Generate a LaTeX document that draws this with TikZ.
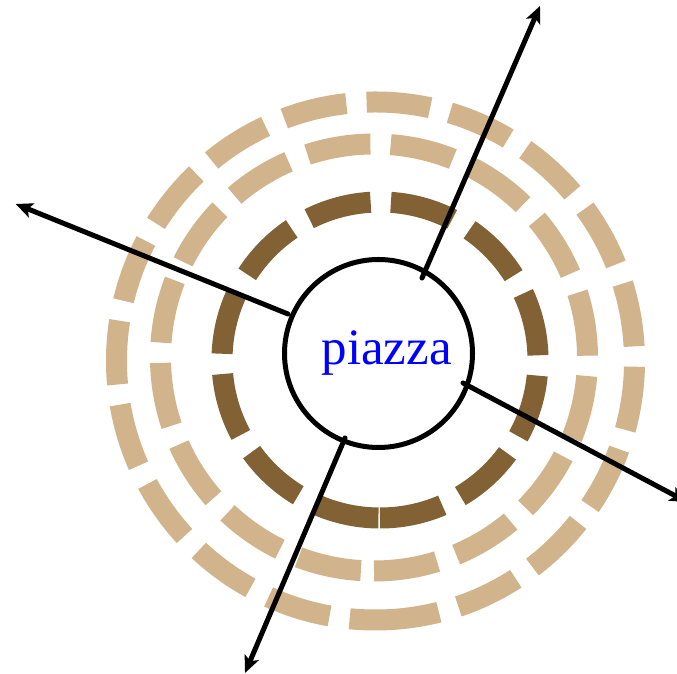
\documentclass[tikz,border=0pt]{standalone}
\usepackage{fontspec}
\setmainfont{Liberation Serif}
\usetikzlibrary{arrows.meta}
\definecolor{ringdark}{HTML}{826134}
\definecolor{ringtan}{HTML}{D2B48C}
\begin{document}
\begin{tikzpicture}[x=1pt,y=1pt,
  ring/.style={line width=21pt, dash pattern=on 64pt off 20.3pt},
  arr/.style={line width=5pt, line cap=round, -{Stealth[length=17pt,width=15pt,inset=4pt]}},
  hubstyle/.style={circle, draw=black, line width=5pt, minimum size=188pt, inner sep=0pt},
  lblstyle/.style={text=blue, font=\fontsize{51}{60}\selectfont, inner sep=0pt, anchor=base}]
\useasboundingbox (0,0) rectangle (677,674);
% dashed rings (start at bottom, counter-clockwise)
\draw[ring, ringtan]  (375.5,54)  arc[start angle=-90, end angle=270, radius=259];
\draw[ring, ringtan]  (374,103)   arc[start angle=-90, end angle=270, radius=213.5];
\draw[ring, ringdark] (380,156)   arc[start angle=-90, end angle=270, radius=158];
% central circle
\node[hubstyle] (hub) at (378.5,320.5) {};
% arrow ends
\coordinate (s1) at (422,396);   \coordinate (e1) at (540,668);
\coordinate (s2) at (288,360);   \coordinate (e2) at (15.7,470);
\coordinate (s3) at (463,291);   \coordinate (e3) at (687,172);
\coordinate (s4) at (345,236);   \coordinate (e4) at (245,1);
\draw[arr] (s1) -- (e1);
\draw[arr] (s2) -- (e2);
\draw[arr] (s3) -- (e3);
\draw[arr] (s4) -- (e4);
\node[lblstyle] (lbl) at (386.7,309) {piazza};
\end{tikzpicture}
\end{document}
